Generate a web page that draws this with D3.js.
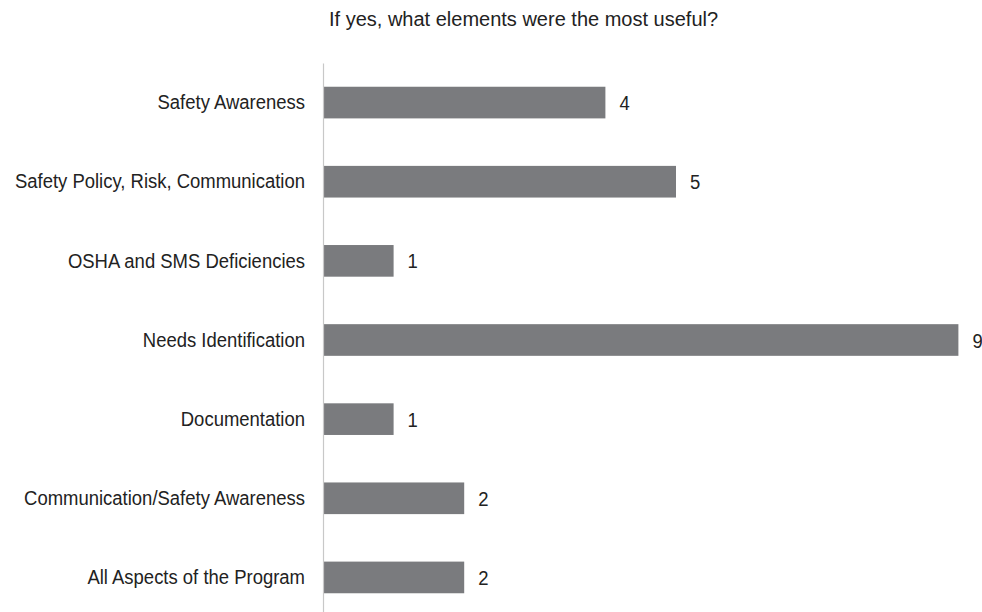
<!DOCTYPE html>
<html>
<head>
<meta charset="utf-8">
<script src="https://cdn.jsdelivr.net/npm/d3@7"></script>
<style>
  html, body { margin: 0; padding: 0; background: #fff; }
  svg text { font-family: "Liberation Sans", Arial, sans-serif; fill: #222; }
</style>
</head>
<body>
<svg id="chart" width="982" height="612"></svg>
<script>
const chartTitle = "If yes, what elements were the most useful?";
const categories = [
  "Safety Awareness",
  "Safety Policy, Risk, Communication",
  "OSHA and SMS Deficiencies",
  "Needs Identification",
  "Documentation",
  "Communication/Safety Awareness",
  "All Aspects of the Program"
];
const counts = [4, 5, 1, 9, 1, 2, 2];

const svg = d3.select("#chart");
const axisX = 323;
const unit = 70.6;
const narrow = 0.88;   // horizontal squeeze for a condensed look

const x = d3.scaleLinear()
  .domain([0, 9])
  .range([axisX, axisX + 9 * unit]);

const y = d3.scaleBand()
  .domain(categories)
  .range([63, 617])
  .paddingInner(0.6)
  .paddingOuter(0.3);

// title
svg.append("text")
  .attr("x", 329)
  .attr("y", 26)
  .style("font-size", "20px")
  .text(chartTitle);

// bars
svg.append("g")
  .selectAll("rect")
  .data(counts)
  .join("rect")
  .attr("x", x(0))
  .attr("y", (d, i) => y(categories[i]))
  .attr("width", d => x(d) - x(0))
  .attr("height", y.bandwidth())
  .attr("fill", "#7a7b7e");

// value labels
svg.append("g")
  .selectAll("text")
  .data(counts)
  .join("text")
  .attr("transform", (d, i) =>
    `translate(${x(d) + 14},${y(categories[i]) + y.bandwidth() / 2}) scale(${narrow},1)`)
  .attr("dy", "0.36em")
  .style("font-size", "21px")
  .text(d => d);

// category axis
const yAxis = d3.axisLeft(y).tickSize(0).tickPadding(0);
const ag = svg.append("g")
  .attr("transform", `translate(${x(0)},0)`)
  .call(yAxis);
ag.select(".domain").attr("stroke", "#c8c8c8").attr("stroke-width", 1.2);
ag.selectAll(".tick text")
  .attr("x", 0)
  .attr("transform", `translate(-18,0) scale(${narrow},1)`)
  .style("font-size", "21px")
  .style("font-family", "'Liberation Sans', Arial, sans-serif")
  .attr("fill", "#222");
</script>
</body>
</html>
